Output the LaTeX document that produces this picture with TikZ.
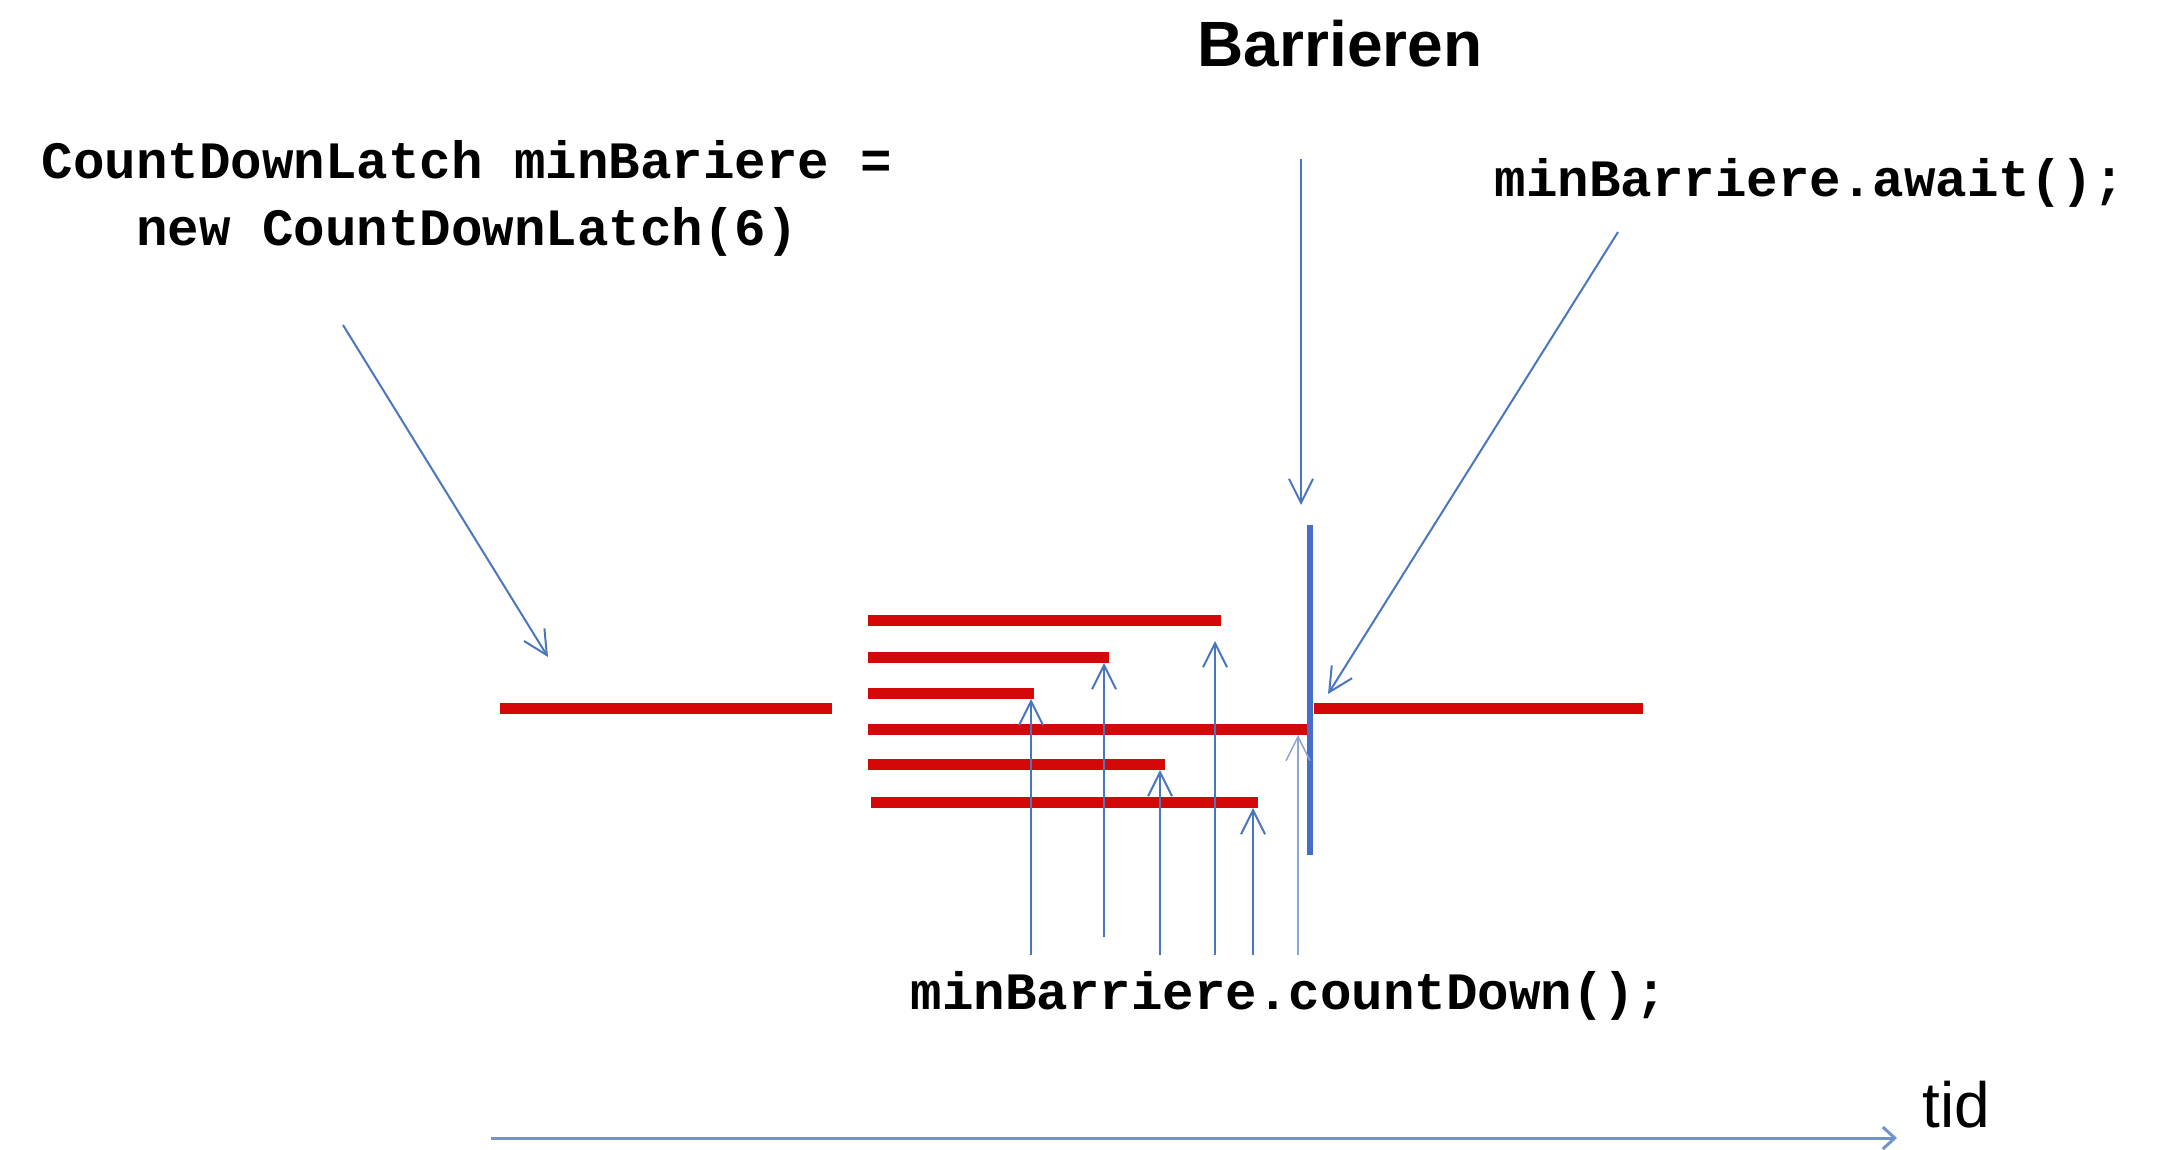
\documentclass[tikz,border=0pt]{standalone}
\usepackage{fontspec}
\setmainfont{Liberation Sans}
\setmonofont{Liberation Mono}
\usetikzlibrary{arrows.meta}
\definecolor{pointblue}{RGB}{74,118,190}
\definecolor{paleblue}{RGB}{140,165,215}
\definecolor{barblue}{RGB}{68,110,200}
\definecolor{threadred}{RGB}{212,8,8}
\definecolor{axisblue}{RGB}{115,145,205}

\begin{document}
\begin{tikzpicture}[x=1pt,y=-1pt,
  code/.style={font=\fontsize{52.5}{67}\selectfont\ttfamily\bfseries,
               inner sep=0pt, anchor=base, align=center},
  title/.style={font=\fontsize{64}{70}\selectfont\bfseries, inner sep=0pt, anchor=base},
  axislabel/.style={font=\fontsize{64}{70}\selectfont, inner sep=0pt, anchor=base west},
  thread/.style={draw=threadred, line width=11pt},
  pointer/.style={draw=pointblue, line width=2pt,
                  -{Straight Barb[length=24pt,width=24pt]}},
  faintpointer/.style={pointer, draw=paleblue, line width=1.5pt},
  barrier/.style={draw=barblue, line width=6pt},
  timeaxis/.style={draw=axisblue, line width=3pt,
                   -{Straight Barb[length=12pt,width=22pt]}}
]
\useasboundingbox (0,0) rectangle (2168,1149);

% labels
\node[title] (title) at (1340,66) {Barrieren};
\node[code] (init) at (467,245) {CountDownLatch minBariere =\\new CountDownLatch(6)};
\node[code] (await) at (1810,196) {minBarriere.await();};
\node[code] (count) at (1289,1009) {minBarriere.countDown();};
\node[axislabel] (tid) at (1922,1127) {tid};

% main thread before and after the barrier
\draw[thread] (500,708) -- (832,708);
\draw[thread] (1314,708) -- (1643,708);

% the six worker threads
\draw[thread] (868,620) coordinate (a0) -- (1221,620) coordinate (a1);
\draw[thread] (868,657) coordinate (b0) -- (1109,657) coordinate (b1);
\draw[thread] (868,693) coordinate (c0) -- (1034,693) coordinate (c1);
\draw[thread] (868,729) coordinate (d0) -- (1309,729) coordinate (d1);
\draw[thread] (868,764) coordinate (e0) -- (1165,764) coordinate (e1);
\draw[thread] (871,802) coordinate (f0) -- (1258,802) coordinate (f1);

% barrier
\draw[barrier] (1310,525) coordinate (bartop) -- (1310,855) coordinate (barbot);

% pointers from the labels
\coordinate (titlefrom) at (1301,159);
\coordinate (titleto) at (1301,505);
\draw[pointer] (titlefrom) -- (titleto);

\coordinate (initfrom) at (343,325);
\coordinate (initto) at (548,657);
\draw[pointer] (initfrom) -- (initto);

\coordinate (awaitfrom) at (1618,232);
\coordinate (awaitto) at (1328,694);
\draw[pointer] (awaitfrom) -- (awaitto);

% countDown() calls, one for each worker thread
\coordinate (cd1) at (1031,955);  \coordinate (tip1) at (1031,699);
\coordinate (cd2) at (1104,937);  \coordinate (tip2) at (1104,663);
\coordinate (cd3) at (1160,955);  \coordinate (tip3) at (1160,770);
\coordinate (cd4) at (1215,955);  \coordinate (tip4) at (1215,641);
\coordinate (cd5) at (1253,955);  \coordinate (tip5) at (1253,808);
\coordinate (cd6) at (1298,955);  \coordinate (tip6) at (1298,735);
\draw[pointer] (cd1) -- (tip1);
\draw[pointer] (cd2) -- (tip2);
\draw[pointer] (cd3) -- (tip3);
\draw[pointer] (cd4) -- (tip4);
\draw[pointer] (cd5) -- (tip5);
\draw[faintpointer] (cd6) -- (tip6);

% time axis
\coordinate (t0) at (491,1138);
\coordinate (t1) at (1897,1138);
\draw[timeaxis] (t0) -- (t1);
\end{tikzpicture}
\end{document}
